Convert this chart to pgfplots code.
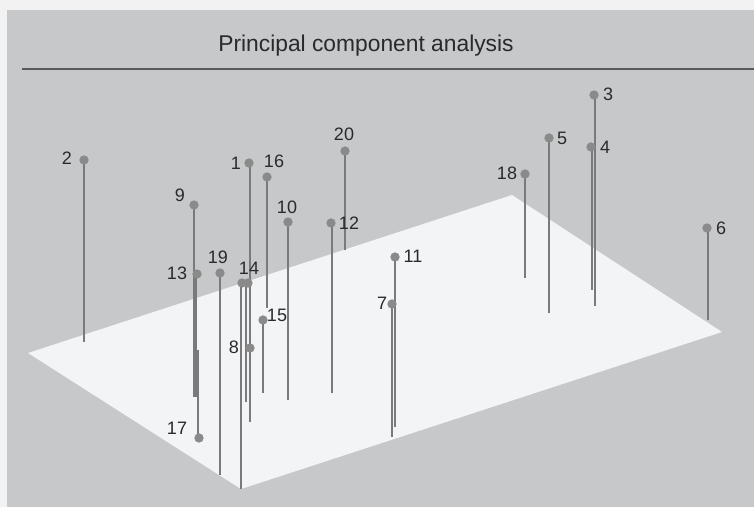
\documentclass[border=0pt]{standalone}
\usepackage{pgfplots}
\pgfplotsset{compat=1.18}
\usepackage{pgfplotstable}
\usepackage{fontspec}
\setmainfont{Liberation Sans}
\definecolor{bgwhite}{HTML}{F2F2F2}
\definecolor{bggray}{HTML}{C7C8CA}
\definecolor{plane}{HTML}{F3F4F6}
\definecolor{stem}{HTML}{7A7A7A}
\definecolor{mk}{HTML}{8A8A8A}
\definecolor{txt}{HTML}{2A2A2A}

% marker positions (image pixel coordinates, y downward)
\pgfplotstableread{
x y
249 163
84 160
594 95
591 147
549 138
707 228
392 304
250 348
194 205
288 222
395 257
331 223
197 274
242 283
248 283
263 320
267 177
199 438
525 174
220 273
345 151
}\markers

% label positions
\pgfplotstableread{
x y lab
236 163 1
67 158 2
608 94 3
605 147 4
562 138 5
721 228 6
382 303 7
234 347 8
180 195 9
287 207 10
413 256 11
349 223 12
177 273 13
249 268 14
277 315 15
274 161 16
177 428 17
507 173 18
218 257 19
344 134 20
}\labels

\begin{document}
\begin{tikzpicture}
\begin{axis}[
  scale only axis, width=377pt, height=253.5pt,
  xmin=0, xmax=754, ymin=0, ymax=507, y dir=reverse,
  hide axis, clip=true,
  unbounded coords=jump,
]
% page background
\addplot[fill=bgwhite, draw=none] coordinates {(0,0) (754,0) (754,507) (0,507)} -- cycle;
\addplot[fill=bggray, draw=none] coordinates {(7,10) (754,10) (754,507) (7,507)} -- cycle;
% plane
\addplot[fill=plane, draw=none] coordinates {(28,353) (512,195) (722,332) (241,489)} -- cycle;
% stems
\addplot[stem, line width=0.85pt] coordinates {
(84,160) (84,342) (nan,nan)
(194,205) (194,397) (nan,nan)
(196,274) (196,397) (nan,nan)
(198,438) (198,350) (nan,nan)
(220,273) (220,475) (nan,nan)
(241,283) (241,489) (nan,nan)
(246,283) (246,402) (nan,nan)
(250,163) (250,422) (nan,nan)
(263,320) (263,393) (nan,nan)
(267,177) (267,308) (nan,nan)
(288,222) (288,400) (nan,nan)
(332,223) (332,393) (nan,nan)
(345,151) (345,250) (nan,nan)
(395,257) (395,427) (nan,nan)
(392,304) (392,437) (nan,nan)
(525,174) (525,278) (nan,nan)
(549,138) (549,313) (nan,nan)
(595,95) (595,306) (nan,nan)
(592,147) (592,290) (nan,nan)
(708,228) (708,320)
};
% markers
\addplot[only marks, mark=*, mark size=2.1pt, mark options={fill=mk, draw=mk}] table[x=x,y=y] {\markers};
% labels
\addplot[only marks, mark=none, point meta=explicit symbolic,
  nodes near coords,
  nodes near coords style={anchor=center, inner sep=0pt, text=txt, font=\fontsize{9}{11}\selectfont}]
  table[x=x, y=y, meta=lab] {\labels};
% title and rule
\node[text=txt, font=\fontsize{11.4}{13}\selectfont] at (axis cs:366,46) {Principal component analysis};
\draw[color=black!65, line width=0.8pt] (axis cs:22,69) -- (axis cs:754,69);
\end{axis}
\end{tikzpicture}
\end{document}
